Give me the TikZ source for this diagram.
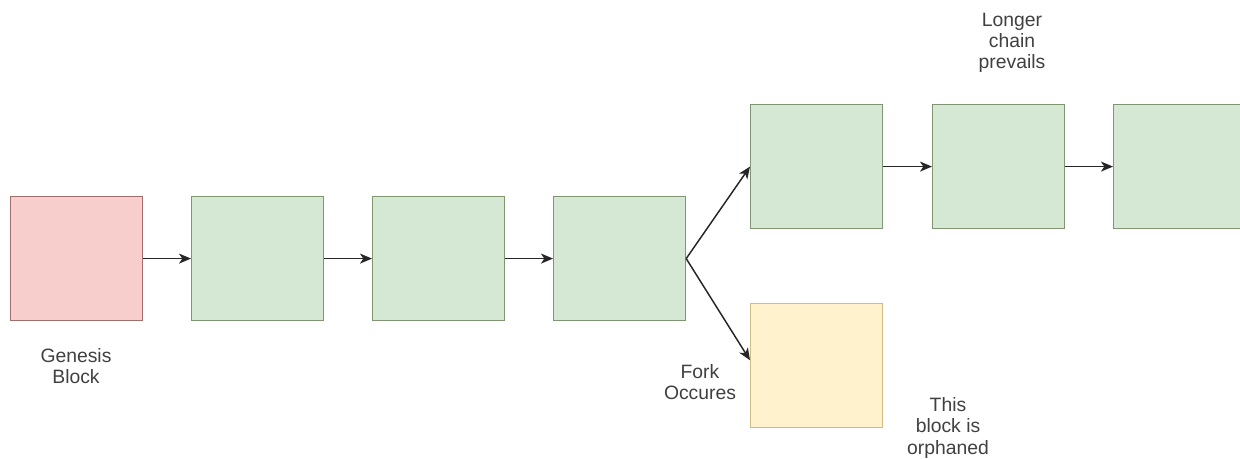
\documentclass[tikz,border=0pt]{standalone}
\usepackage{fontspec}
\setmainfont{Liberation Sans}
\usetikzlibrary{arrows.meta}
\begin{document}
\begin{tikzpicture}[x=0.75pt,y=-0.75pt,
  block/.style={draw, line width=0.9pt, minimum width=132*0.75pt, minimum height=124*0.75pt, inner sep=0pt, anchor=north west},
  genesis/.style={block, fill={rgb,255:red,248;green,206;blue,204}, draw={rgb,255:red,160;green,110;blue,108}},
  chain/.style={block, fill={rgb,255:red,213;green,232;blue,212}, draw={rgb,255:red,128;green,150;blue,115}},
  orphan/.style={block, fill={rgb,255:red,255;green,242;blue,204}, draw={rgb,255:red,205;green,190;blue,130}},
  link/.style={-{Stealth[length=9pt,width=7.5pt,inset=2.5pt]}, line width=1.1pt, black!85},
  note/.style={align=center, font=\fontsize{14.5}{16}\selectfont, text=black!75}
]
\useasboundingbox (0,0) rectangle (1240,459);
\fill[white] (0,0) rectangle (1240,459);

% main chain
\node[genesis] (g)  at (10,196) {};
\node[chain]   (b1) at (191,196) {};
\node[chain]   (b2) at (372,196) {};
\node[chain]   (b3) at (553,196) {};
% winning branch
\node[chain]   (b4) at (750,104) {};
\node[chain]   (b5) at (932,104) {};
\node[chain]   (b6) at (1113,104) {};
% stale branch
\node[orphan]  (o)  at (750,303) {};
\coordinate (oin) at ([yshift=4]o.west);

\draw[link] (g) -- (b1);
\draw[link] (b1) -- (b2);
\draw[link] (b2) -- (b3);
\draw[link] (b3.east) -- (b4.west);
\draw[link] (b3.east) -- (oin);
\draw[link] (b4) -- (b5);
\draw[link] (b5) -- (b6);

\node[note] (tg) at (76,366) {Genesis\\Block};
\node[note] (tf) at (700,382) {Fork\\Occures};
\node[note] (tl) at (1012,43) {Longer\\chain\\prevails};
\node[note] (to) at (948,428) {This\\block is\\orphaned};
\end{tikzpicture}
\end{document}
